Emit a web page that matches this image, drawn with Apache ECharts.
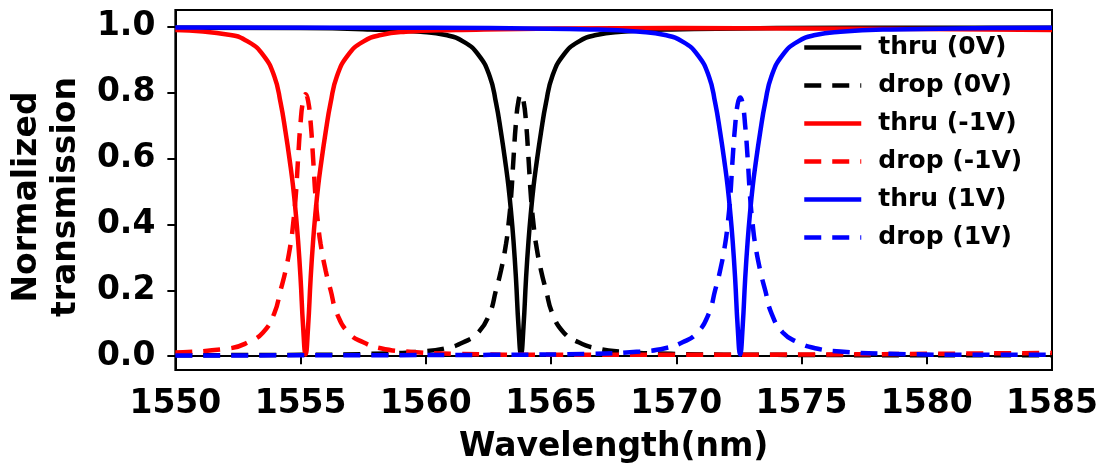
<!DOCTYPE html>
<html>
<head>
<meta charset="utf-8">
<script src="https://cdn.jsdelivr.net/npm/echarts@6/dist/echarts.min.js"></script>
<style>
  html, body { margin: 0; padding: 0; background: #fff; }
  #chart { width: 1102px; height: 469px; }
</style>
</head>
<body>
<div id="chart"></div>
<script>
// wavelength (nm) and transmission, per bias voltage
const wlNeg1 = [1550, 1552.2, 1552.9, 1553.5, 1553.95, 1554.2, 1554.4, 1554.6, 1554.7, 1554.8, 1554.9, 1555.0, 1555.1, 1555.2,
  1555.3, 1555.4, 1555.5, 1555.6, 1555.7, 1555.8, 1556.0, 1556.2, 1556.45, 1556.9, 1557.5, 1558.2, 1559.2, 1561.2, 1565.2, 1570, 1575, 1580, 1585]
const thruNeg1 = [0.99, 0.975, 0.955, 0.915, 0.85, 0.77, 0.68, 0.575, 0.515, 0.44, 0.35, 0.235, 0.09, 0.005,
  0.09, 0.235, 0.35, 0.44, 0.515, 0.575, 0.68, 0.77, 0.85, 0.915, 0.955, 0.975, 0.985, 0.99, 0.995, 0.996, 0.995, 0.993, 0.99]
const dropNeg1 = [0.011, 0.024, 0.042, 0.072, 0.13, 0.2, 0.26, 0.34, 0.40, 0.48, 0.6, 0.71, 0.775, 0.795,
  0.775, 0.71, 0.6, 0.48, 0.40, 0.34, 0.26, 0.2, 0.13, 0.072, 0.042, 0.024, 0.014, 0.007, 0.004, 0.004, 0.005, 0.007, 0.01]

const wl0 = [1550, 1555, 1557.8, 1559.8, 1560.8, 1561.5, 1562.1, 1562.55, 1562.8, 1563.0, 1563.2, 1563.3, 1563.4, 1563.5, 1563.6, 1563.7, 1563.8,
  1563.9, 1564.0, 1564.1, 1564.2, 1564.3, 1564.4, 1564.6, 1564.8, 1565.05, 1565.5, 1566.1, 1566.8, 1567.8, 1569.8, 1574, 1580, 1585]
const thru0 = [0.997, 0.996, 0.992, 0.985, 0.975, 0.955, 0.915, 0.85, 0.77, 0.68, 0.575, 0.515, 0.44, 0.35, 0.235, 0.09, 0.005,
  0.09, 0.235, 0.35, 0.44, 0.515, 0.575, 0.68, 0.77, 0.85, 0.915, 0.955, 0.975, 0.985, 0.992, 0.996, 0.997, 0.997]
const drop0 = [0.003, 0.004, 0.007, 0.014, 0.024, 0.042, 0.072, 0.13, 0.2, 0.26, 0.34, 0.40, 0.48, 0.6, 0.71, 0.775, 0.795,
  0.775, 0.71, 0.6, 0.48, 0.40, 0.34, 0.26, 0.2, 0.13, 0.072, 0.042, 0.024, 0.014, 0.007, 0.004, 0.003, 0.003]

const wlPos1 = [1550, 1558, 1562.55, 1566.55, 1568.55, 1569.55, 1570.25, 1570.85, 1571.3, 1571.55, 1571.75, 1571.95, 1572.05, 1572.15, 1572.25, 1572.35, 1572.45, 1572.55,
  1572.65, 1572.75, 1572.85, 1572.95, 1573.05, 1573.15, 1573.35, 1573.55, 1573.8, 1574.25, 1574.85, 1575.55, 1576.55, 1578.55, 1582.55, 1585]
const thruPos1 = [0.998, 0.997, 0.996, 0.992, 0.985, 0.975, 0.955, 0.915, 0.85, 0.77, 0.68, 0.575, 0.515, 0.44, 0.35, 0.235, 0.09, 0.005,
  0.09, 0.235, 0.35, 0.44, 0.515, 0.575, 0.68, 0.77, 0.85, 0.915, 0.955, 0.975, 0.985, 0.992, 0.996, 0.997]
const dropPos1 = [0.002, 0.003, 0.004, 0.007, 0.014, 0.024, 0.042, 0.072, 0.13, 0.2, 0.26, 0.34, 0.40, 0.48, 0.6, 0.7, 0.765, 0.785,
  0.765, 0.7, 0.6, 0.48, 0.40, 0.34, 0.26, 0.2, 0.13, 0.072, 0.042, 0.024, 0.014, 0.007, 0.004, 0.004]

const yTicks = [0, 0.2, 0.4, 0.6, 0.8, 1.0]

const font = 'DejaVu Sans'

function pairs(xs, ys) {
  return xs.map((x, i) => [x, ys[i]])
}

function makeLine(name, xs, ys, color, dashed) {
  return {
    name: name,
    type: 'line',
    data: pairs(xs, ys),
    symbol: 'none',
    showSymbol: false,
    smooth: 0.5,
    lineStyle: {
      color: color,
      width: 4.5,
      type: dashed ? [17, 11] : 'solid',
      cap: 'butt'
    },
    itemStyle: { color: color }
  }
}

const myChart = echarts.init(document.getElementById('chart'))
const options = {
  animation: false,
  backgroundColor: '#fff',
  grid: {
    left: 175,
    right: 50,
    top: 10,
    bottom: 96,
    show: true,
    borderColor: '#000',
    borderWidth: 2
  },
  legend: {
    orient: 'vertical',
    left: 802,
    top: 35,
    padding: 0,
    itemWidth: 57,
    itemHeight: 20,
    itemGap: 13,
    itemStyle: { opacity: 0 },
    lineStyle: { width: 4.5 },
    textStyle: {
      fontFamily: font,
      fontWeight: 'bold',
      fontSize: 25,
      color: '#000',
      padding: [0, 0, 0, 12]
    },
    data: ['thru (0V)', 'drop (0V)', 'thru (-1V)', 'drop (-1V)', 'thru (1V)', 'drop (1V)']
  },
  xAxis: {
    type: 'value',
    min: 1550,
    max: 1585,
    interval: 5,
    name: 'Wavelength(nm)',
    nameLocation: 'middle',
    nameGap: 61,
    nameTextStyle: { fontFamily: font, fontWeight: 'bold', fontSize: 33, color: '#000' },
    axisLine: { show: true, lineStyle: { color: '#000', width: 2 } },
    axisTick: { show: true, length: 8, lineStyle: { color: '#000', width: 2 } },
    axisLabel: {
      fontFamily: font, fontWeight: 'bold', fontSize: 33, color: '#000', margin: 18,
      formatter: v => String(v)
    },
    splitLine: { show: false }
  },
  yAxis: {
    type: 'value',
    min: -0.042,
    max: 1.051,
    name: 'Normalized\ntransmission',
    nameLocation: 'middle',
    nameGap: 87,
    nameTextStyle: {
      fontFamily: font, fontWeight: 'bold', fontSize: 33, color: '#000', lineHeight: 39,
      padding: [0, 14, 0, 0]
    },
    axisLine: { show: true, lineStyle: { color: '#000', width: 2 } },
    axisTick: { show: true, length: 8, customValues: yTicks, lineStyle: { color: '#000', width: 2 } },
    axisLabel: {
      fontFamily: font, fontWeight: 'bold', fontSize: 33, color: '#000', margin: 20,
      customValues: yTicks,
      formatter: v => v.toFixed(1)
    },
    splitLine: { show: false }
  },
  series: [
    makeLine('thru (0V)', wl0, thru0, '#000000', false),
    makeLine('drop (0V)', wl0, drop0, '#000000', true),
    makeLine('thru (-1V)', wlNeg1, thruNeg1, '#ff0000', false),
    makeLine('drop (-1V)', wlNeg1, dropNeg1, '#ff0000', true),
    makeLine('thru (1V)', wlPos1, thruPos1, '#0000ff', false),
    makeLine('drop (1V)', wlPos1, dropPos1, '#0000ff', true)
  ]
}
myChart.setOption(options)
window.addEventListener('resize', () => {
  myChart.resize()
})
</script>
</body>
</html>
